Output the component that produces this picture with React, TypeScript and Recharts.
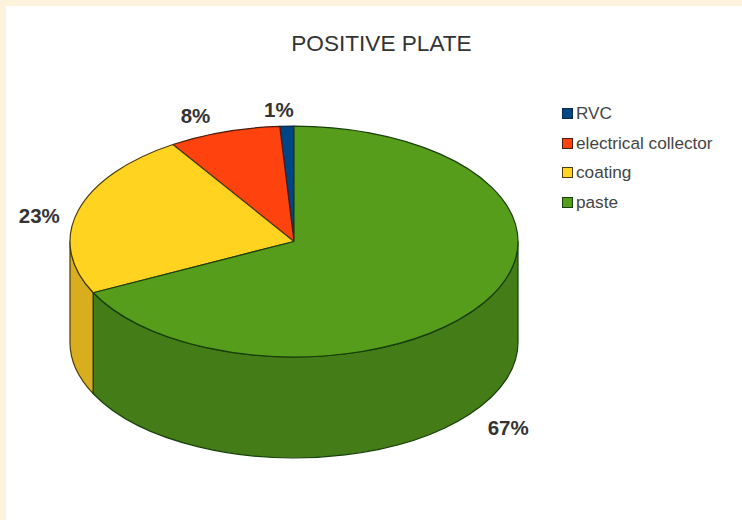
import { PieChart, Pie, Cell, Legend } from "recharts";

const categories = ["RVC", "electrical collector", "coating", "paste"];
const shares = [1, 8, 23, 67];
const topColors = ["#004586", "#ff420e", "#ffd320", "#579d1c"];
const wallColors = ["#003a70", "#d9380c", "#d9ae1e", "#447c17"];
const edgeColors = ["#0a2a4a", "#4a1c0c", "#4a3c0c", "#173f0a"];

const pieData = categories.map((name, i) => ({ name, value: shares[i] }));

const SQUASH = 0.515; // ellipse height / width of the tilted disc
const DEPTH = 101; // wall height in px
const CX = 294;
const CY = 241.5;
const RADIUS = 224;
const FONT = "'Liberation Sans', Arial, sans-serif";

// label nudges from the slice's mid-angle position, per slice
const labelNudge: Record<string, [number, number]> = {
  RVC: [-7, 1],
  "electrical collector": [-18, 0],
  coating: [-6, 9],
  paste: [-5, 15],
};

const pointAt = (cx: number, cy: number, r: number, deg: number) => {
  const rad = (deg * Math.PI) / 180;
  return { x: cx + r * Math.cos(rad), y: cy - r * SQUASH * Math.sin(rad) };
};

// top face of a slice, flattened into an ellipse
const TopSlice = (props: any) => {
  const { cx, cy, outerRadius: r, startAngle, endAngle, fill, stroke } = props;
  const a = pointAt(cx, cy, r, startAngle);
  const b = pointAt(cx, cy, r, endAngle);
  const large = Math.abs(endAngle - startAngle) > 180 ? 1 : 0;
  const d = `M${cx},${cy} L${a.x},${a.y} A${r},${r * SQUASH} 0 ${large} 0 ${b.x},${b.y} Z`;
  return <path d={d} fill={fill} stroke={stroke} strokeWidth={1.2} strokeLinejoin="round" />;
};

// outer wall of a slice, only where it faces the viewer (180-360 degrees)
const WallSlice = (props: any) => {
  const { cx, cy, outerRadius: r, startAngle, endAngle, fill, stroke } = props;
  const from = Math.max(startAngle, 180);
  const to = Math.min(endAngle, 360);
  if (to <= from) return null;
  const a = pointAt(cx, cy, r, from);
  const b = pointAt(cx, cy, r, to);
  const ry = r * SQUASH;
  const d =
    `M${a.x},${a.y} A${r},${ry} 0 0 0 ${b.x},${b.y} ` +
    `L${b.x},${b.y + DEPTH} A${r},${ry} 0 0 1 ${a.x},${a.y + DEPTH} Z`;
  return <path d={d} fill={fill} stroke={stroke} strokeWidth={1.2} strokeLinejoin="round" />;
};

const renderShareLabel = (props: any) => {
  const { cx, cy, midAngle, value, name } = props;
  const p = pointAt(cx, cy, 258, midAngle);
  const lower = midAngle > 180 && midAngle < 360;
  const [dx, dy] = labelNudge[name] ?? [0, 0];
  return (
    <text
      x={p.x + dx}
      y={p.y + dy + (lower ? DEPTH : 0)}
      textAnchor="middle"
      dominantBaseline="central"
      fontFamily={FONT}
      fontSize={20.5}
      fontWeight="bold"
      fill="#333333"
    >
      {`${value}%`}
    </text>
  );
};

const renderLegend = () => (
  <div style={{ fontFamily: FONT, fontSize: 17.2, color: "#444444" }}>
    {categories.map((name, i) => (
      <div key={name} style={{ display: "flex", alignItems: "center", height: 29.5, whiteSpace: "nowrap" }}>
        <span
          style={{
            width: 9,
            height: 9,
            marginRight: 3,
            background: topColors[i],
            border: `1px solid ${edgeColors[i]}`,
          }}
        />
        {name}
      </div>
    ))}
  </div>
);

export default function App() {
  return (
    <div style={{ position: "absolute", left: 0, top: 0, width: 742, height: 520, background: "#fdf2dc" }}>
      <div style={{ position: "absolute", left: 6, top: 6, right: 0, bottom: 0, background: "#ffffff" }} />
      <PieChart
        width={742}
        height={520}
        margin={{ top: 0, right: 0, bottom: 0, left: 0 }}
        style={{ position: "absolute", left: 0, top: 0 }}
      >
        <text x={381.5} y={43} textAnchor="middle" dominantBaseline="central" fontFamily={FONT} fontSize={22.6} fill="#333333">
          POSITIVE PLATE
        </text>
        <Pie
          data={pieData}
          dataKey="value"
          nameKey="name"
          cx={CX}
          cy={CY}
          outerRadius={RADIUS}
          startAngle={90}
          endAngle={450}
          legendType="none"
          shape={WallSlice}
          isAnimationActive={false}
        >
          {categories.map((name, i) => (
            <Cell key={name} fill={wallColors[i]} stroke={edgeColors[i]} />
          ))}
        </Pie>
        <Pie
          data={pieData}
          dataKey="value"
          nameKey="name"
          cx={CX}
          cy={CY}
          outerRadius={RADIUS}
          startAngle={90}
          endAngle={450}
          shape={TopSlice}
          label={renderShareLabel}
          labelLine={false}
          isAnimationActive={false}
        >
          {categories.map((name, i) => (
            <Cell key={name} fill={topColors[i]} stroke={edgeColors[i]} />
          ))}
        </Pie>
        <Legend
          layout="vertical"
          content={renderLegend}
          wrapperStyle={{ left: 562, top: 99, width: 175, bottom: "auto" }}
        />
      </PieChart>
    </div>
  );
}
